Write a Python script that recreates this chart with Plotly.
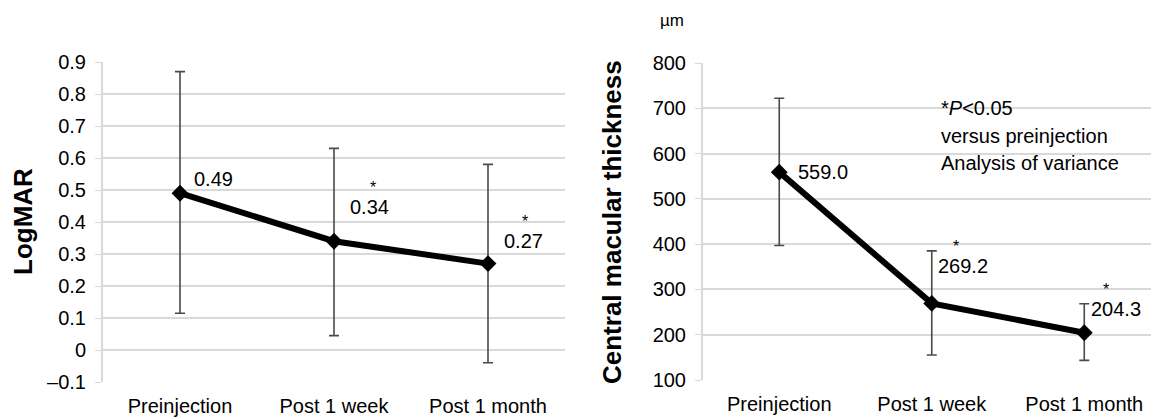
import plotly.graph_objects as go

# ---- data ----
categories = ["Preinjection", "Post 1 week", "Post 1 month"]

logmar_mean = [0.49, 0.34, 0.27]
logmar_err_plus = [0.38, 0.29, 0.31]
logmar_err_minus = [0.375, 0.295, 0.31]

cmt_mean = [559.0, 269.2, 204.3]
cmt_err_plus = [163, 116, 64]
cmt_err_minus = [162, 114, 61]

significance = ["", "*", "*"]

left_ticks = [-0.1, 0, 0.1, 0.2, 0.3, 0.4, 0.5, 0.6, 0.7, 0.8, 0.9]
left_ticktext = ["\u20130.1", "0", "0.1", "0.2", "0.3", "0.4", "0.5", "0.6", "0.7", "0.8", "0.9"]
right_ticks = [100, 200, 300, 400, 500, 600, 700, 800]

FONT = "Liberation Sans, Arial, sans-serif"
PAGE_MARGIN = 8            # default body margin of the html page
W, H = 1159 - PAGE_MARGIN, 419 - PAGE_MARGIN


def px_x(x):
    return (x - PAGE_MARGIN) / W


def px_y(y):
    return 1 - (y - PAGE_MARGIN) / H


fig = go.Figure()

idx = list(range(len(categories)))

fig.add_trace(go.Scatter(
    x=idx, y=logmar_mean, mode="lines+markers",
    line=dict(color="black", width=6),
    marker=dict(symbol="diamond", size=13, color="black"),
    error_y=dict(type="data", symmetric=False, array=logmar_err_plus,
                 arrayminus=logmar_err_minus, color="#4a4a4a", thickness=1.6, width=5),
    xaxis="x", yaxis="y", showlegend=False, hoverinfo="skip"))

fig.add_trace(go.Scatter(
    x=idx, y=cmt_mean, mode="lines+markers",
    line=dict(color="black", width=6),
    marker=dict(symbol="diamond", size=13, color="black"),
    error_y=dict(type="data", symmetric=False, array=cmt_err_plus,
                 arrayminus=cmt_err_minus, color="#4a4a4a", thickness=1.6, width=5),
    xaxis="x2", yaxis="y2", showlegend=False, hoverinfo="skip"))

grid = "#d9d9d9"
axis_common = dict(showgrid=True, gridcolor=grid, gridwidth=2, zeroline=False,
                   tickfont=dict(family=FONT, size=20, color="black"),
                   ticks="outside", ticklen=6, tickcolor=grid, tickwidth=1,
                   ticklabelstandoff=5,
                   showline=True, linecolor=grid, linewidth=2, automargin=False)
xaxis_common = dict(tickmode="array", tickvals=idx, ticktext=categories,
                    tickfont=dict(family=FONT, size=20, color="black"),
                    showgrid=False, zeroline=False, showline=False,
                    ticks="", ticklabelstandoff=10, automargin=False)

fig.update_layout(
    template="none",
    width=W, height=H,
    margin=dict(l=0, r=0, t=0, b=0, autoexpand=False),
    paper_bgcolor="white", plot_bgcolor="white",
    xaxis=dict(domain=[px_x(103), px_x(565)], range=[-0.5, 2.5], anchor="y", **xaxis_common),
    yaxis=dict(domain=[px_y(382), px_y(62)], range=[-0.1, 0.9], anchor="x",
               tickvals=left_ticks, ticktext=left_ticktext, **axis_common),
    xaxis2=dict(domain=[px_x(703), 1.0], range=[-0.5, 2.49], anchor="y2", **xaxis_common),
    yaxis2=dict(domain=[px_y(380), px_y(63)], range=[100, 800], anchor="x2",
                tickvals=right_ticks, **axis_common),
)

ann = []
# axis titles
ann.append(dict(text="<b>LogMAR</b>", x=px_x(23), y=px_y(222), xref="paper", yref="paper",
                textangle=-90, showarrow=False, font=dict(family=FONT, size=26, color="black"),
                xanchor="center", yanchor="middle"))
ann.append(dict(text="<b>Central macular thickness</b>", x=px_x(612), y=px_y(222),
                xref="paper", yref="paper", textangle=-90, showarrow=False,
                font=dict(family=FONT, size=26, color="black"),
                xanchor="center", yanchor="middle"))
ann.append(dict(text="\u00b5m", x=px_x(672), y=px_y(21), xref="paper", yref="paper",
                showarrow=False, font=dict(family=FONT, size=17, color="black"),
                xanchor="center", yanchor="middle"))
# statistics note
note_lines = ["*<i>P</i>&lt;0.05", "versus preinjection", "Analysis of variance"]
note_y = [108, 136, 163]
for t, yy in zip(note_lines, note_y):
    ann.append(dict(text=t, x=px_x(939), y=px_y(yy), xref="paper", yref="paper",
                    showarrow=False, font=dict(family=FONT, size=20, color="black"),
                    xanchor="left", yanchor="middle"))


def label_text(value_str, mark, star_dx):
    """Value label, optionally with the significance mark on the line above."""
    if not mark:
        return value_str
    pad = max(star_dx - 3, 0.5) / 0.278
    return (f"<span style='font-size:{pad:.1f}px'>&nbsp;</span>{mark}"
            f"<br><span style='font-size:20px'>{value_str}</span>")


def add_labels(values, fmt, xref, yref, lab_off, star_dx):
    for i, v in enumerate(values):
        dx, dy = lab_off[i]
        mark = significance[i]
        if mark:
            ann.append(dict(text=label_text(fmt.format(v), mark, star_dx[i]),
                            x=i, y=v, xref=xref, yref=yref, showarrow=False,
                            xanchor="left", yanchor="bottom", align="left",
                            xshift=dx, yshift=dy - 12,
                            font=dict(family=FONT, size=16, color="black")))
        else:
            ann.append(dict(text=fmt.format(v), x=i, y=v, xref=xref, yref=yref,
                            showarrow=False, xanchor="left", yanchor="middle",
                            xshift=dx, yshift=dy,
                            font=dict(family=FONT, size=20, color="black")))


# label offsets (px): label left edge / centre relative to the point; star centre offset
add_labels(logmar_mean, "{:.2f}", "x", "y",
           lab_off=[(12, 14), (14, 33), (14, 22)], star_dx=[0, 23, 21])
add_labels(cmt_mean, "{:.1f}", "x2", "y2",
           lab_off=[(17, 0), (4, 36), (5, 23)], star_dx=[0, 18, 15])

fig.update_layout(annotations=ann)

fig.write_html("out.html")
